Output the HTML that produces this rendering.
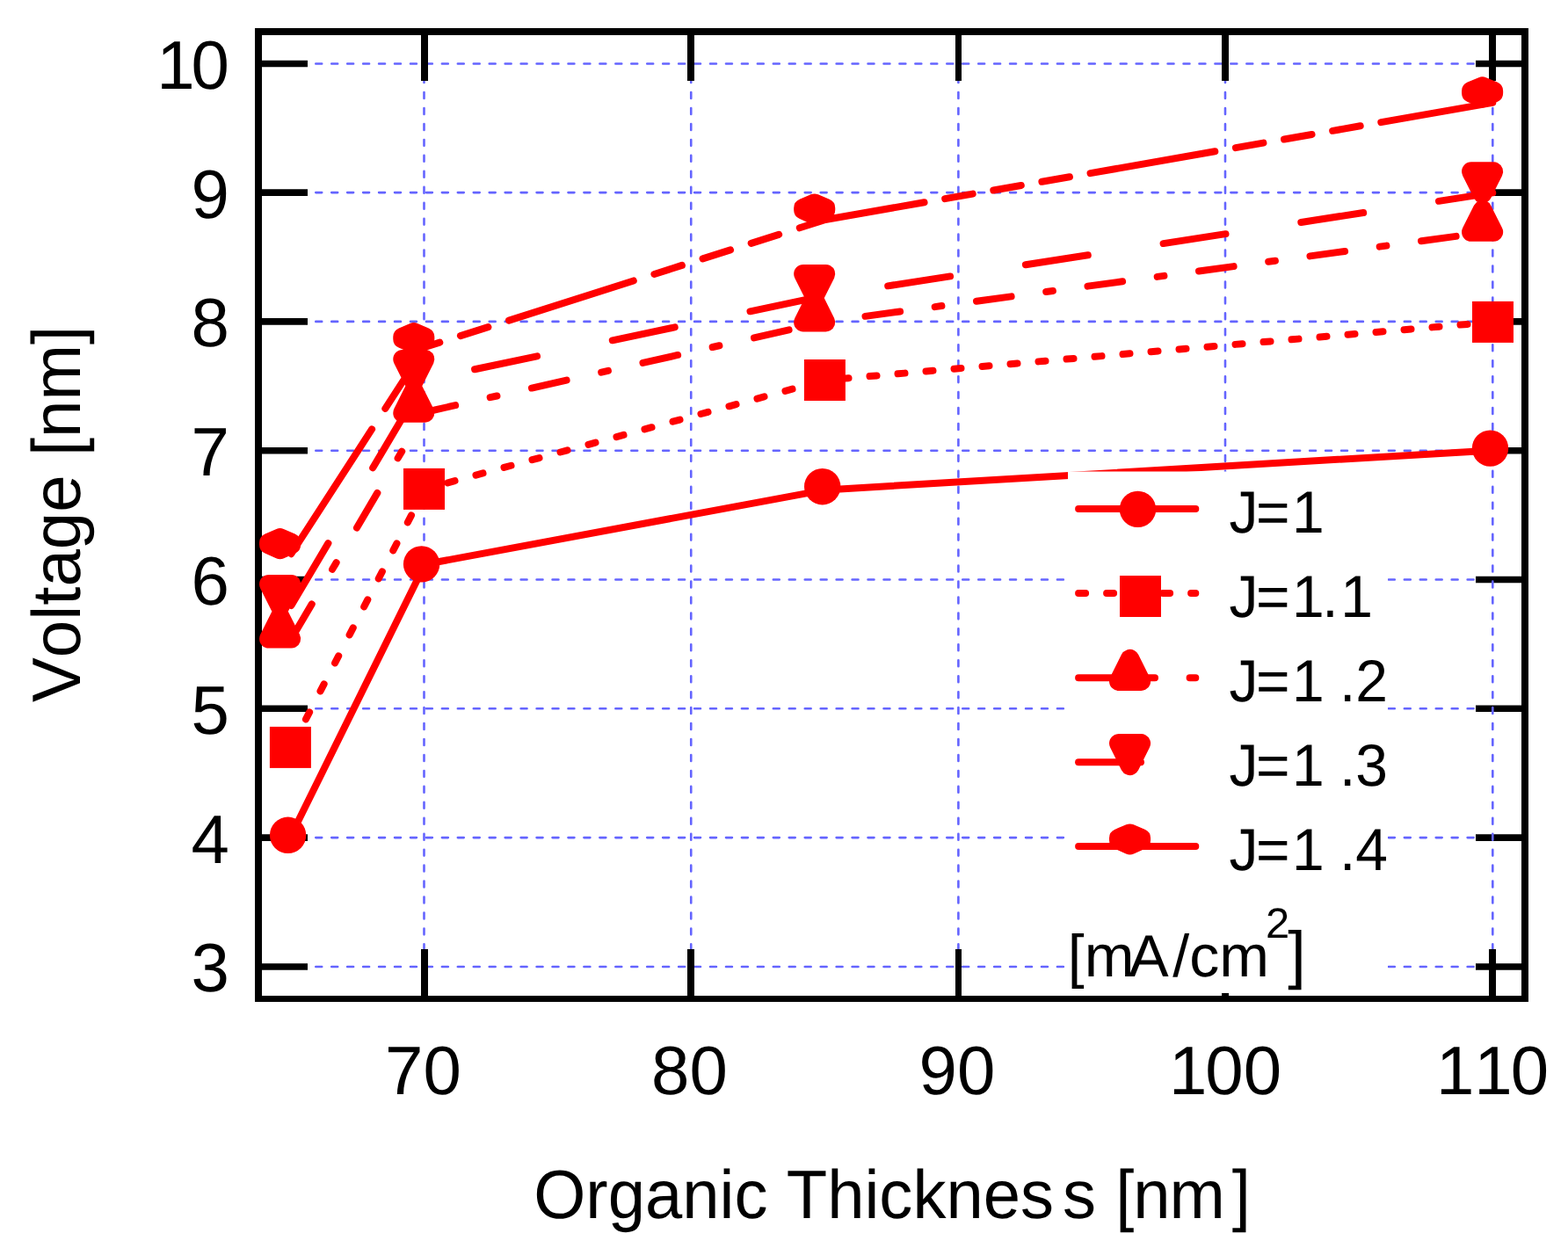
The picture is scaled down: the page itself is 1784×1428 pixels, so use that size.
<!DOCTYPE html>
<html lang="en"><head><meta charset="utf-8"><title>Voltage vs Organic Thickness</title>
<style>html,body{margin:0;padding:0;background:#fff;overflow:hidden}svg{display:block}text{font-family:"Liberation Sans",sans-serif;fill:#000;font-kerning:none;font-variant-ligatures:none;text-rendering:geometricPrecision}</style>
</head><body>
<svg width="1784" height="1428" viewBox="0 0 1784 1428">
<rect x="0" y="0" width="1784" height="1428" fill="#ffffff"/>
<g id="hgrid" stroke="#6464ff" stroke-width="2.6" stroke-linecap="round" stroke-dasharray="6.9 11.05" fill="none">
<line x1="359.3" y1="72.5" x2="1678" y2="72.5"/>
<line x1="359.3" y1="219.1" x2="1678" y2="219.1"/>
<line x1="359.3" y1="365.9" x2="1678" y2="365.9"/>
<line x1="359.3" y1="512.7" x2="1678" y2="512.7"/>
<line x1="359.3" y1="659.5" x2="1678" y2="659.5"/>
<line x1="359.3" y1="806.3" x2="1678" y2="806.3"/>
<line x1="359.3" y1="953.1" x2="1678" y2="953.1"/>
<line x1="359.3" y1="1100" x2="1678" y2="1100"/>
</g>
<g id="ticks" stroke="#000" stroke-width="7.6" fill="none">
<line x1="294.0" y1="72.5" x2="350" y2="72.5"/>
<line x1="1679" y1="72.5" x2="1735.0" y2="72.5"/>
<line x1="294.0" y1="219.1" x2="350" y2="219.1"/>
<line x1="1679" y1="219.1" x2="1735.0" y2="219.1"/>
<line x1="294.0" y1="365.9" x2="350" y2="365.9"/>
<line x1="1679" y1="365.9" x2="1735.0" y2="365.9"/>
<line x1="294.0" y1="512.7" x2="350" y2="512.7"/>
<line x1="1679" y1="512.7" x2="1735.0" y2="512.7"/>
<line x1="294.0" y1="659.5" x2="350" y2="659.5"/>
<line x1="1679" y1="659.5" x2="1735.0" y2="659.5"/>
<line x1="294.0" y1="806.3" x2="350" y2="806.3"/>
<line x1="1679" y1="806.3" x2="1735.0" y2="806.3"/>
<line x1="294.0" y1="953.1" x2="350" y2="953.1"/>
<line x1="1679" y1="953.1" x2="1735.0" y2="953.1"/>
<line x1="294.0" y1="1100" x2="350" y2="1100"/>
<line x1="1679" y1="1100" x2="1735.0" y2="1100"/>
</g>
<g id="vgrid" stroke="#6464ff" stroke-width="2.6" stroke-linecap="round" stroke-dasharray="6.9 11.05" fill="none">
<line x1="482.5" y1="1081.3" x2="482.5" y2="92"/>
<line x1="786.25" y1="1081.3" x2="786.25" y2="92"/>
<line x1="1090.4" y1="1081.3" x2="1090.4" y2="92"/>
<line x1="1394" y1="1081.3" x2="1394" y2="92"/>
<line x1="1698.3" y1="1081.3" x2="1698.3" y2="92"/>
</g>
<g id="xticks" fill="#000" stroke="none">
<rect x="479" y="36.0" width="8" height="56.0"/>
<rect x="479" y="1080" width="8" height="56.3"/>
<rect x="782" y="36.0" width="8" height="56.0"/>
<rect x="782" y="1080" width="8" height="56.3"/>
<rect x="1087" y="36.0" width="7" height="56.0"/>
<rect x="1087" y="1080" width="7" height="56.3"/>
<rect x="1390" y="36.0" width="8" height="56.0"/>
<rect x="1390" y="1080" width="8" height="56.3"/>
<rect x="1694" y="36.0" width="8" height="56.0"/>
<rect x="1694" y="1080" width="8" height="56.3"/>
</g>
<path id="frame" fill="#000" fill-rule="evenodd" d="M290 32H1739V1140H290Z M298 40V1133H1731V40Z"/>
<g id="lines" stroke="#ff0000" stroke-width="8.0" stroke-linecap="round" stroke-linejoin="round" fill="none">
<path d="M331.4 950.3 L483.5 642 L939 557.4 L1698.25 512.4"/>
<path d="M331.4 850.4 L335.54 842.4 M347.96 818.4 L352.09 810.4 M364.51 786.4 L368.65 778.4 M381.07 754.4 L385.2 746.4 M397.62 722.4 L401.76 714.4 M414.18 690.4 L418.31 682.4 M430.73 658.4 L434.87 650.4 M447.29 626.4 L451.42 618.4 M463.84 594.4 L467.98 586.4 M480.4 562.4 L483.5 556.4 L485.5 555.86 M509.5 549.33 L517.5 547.15 M541.5 540.62 L549.5 538.45 M573.5 531.92 L581.5 529.74 M605.5 523.21 L613.5 521.04 M637.5 514.51 L645.5 512.33 M669.5 505.81 L677.5 503.63 M701.5 497.1 L709.5 494.93 M733.5 488.4 L741.5 486.22 M765.5 479.69 L773.5 477.52 M797.5 470.99 L805.5 468.81 M829.5 462.28 L837.5 460.11 M861.5 453.58 L869.5 451.4 M893.5 444.88 L901.5 442.7 M925.5 436.17 L933.5 434 M957.5 430.89 L965.5 430.19 M989.5 428.1 L997.5 427.41 M1021.5 425.32 L1029.5 424.62 M1053.5 422.53 L1061.5 421.84 M1085.5 419.75 L1093.5 419.05 M1117.5 416.96 L1125.5 416.26 M1149.5 414.17 L1157.5 413.48 M1181.5 411.39 L1189.5 410.69 M1213.5 408.6 L1221.5 407.91 M1245.5 405.82 L1253.5 405.12 M1277.5 403.03 L1285.5 402.33 M1309.5 400.24 L1317.5 399.55 M1341.5 397.46 L1349.5 396.76 M1373.5 394.67 L1381.5 393.98 M1405.5 391.89 L1413.5 391.19 M1437.5 389.1 L1445.5 388.4 M1469.5 386.31 L1477.5 385.62 M1501.5 383.53 L1509.5 382.83 M1533.5 380.74 L1541.5 380.05 M1565.5 377.96 L1573.5 377.26 M1597.5 375.17 L1605.5 374.47 M1629.5 372.39 L1637.5 371.69 M1661.5 369.6 L1669.5 368.9 M1693.5 366.81 L1698.25 366.4"/>
<path d="M331.4 727 L354.75 687.4 M378.09 647.8 L382.63 640.1 M405.98 600.5 L429.32 560.9 M452.67 521.3 L457.21 513.6 M480.55 474 L483.5 469 L518.1 461.18 M557.7 452.22 L565.4 450.48 M605 441.53 L644.6 432.57 M684.2 423.62 L691.9 421.88 M731.5 412.92 L771.1 403.97 M810.7 395.01 L818.4 393.27 M858 384.32 L897.6 375.36 M937.2 366.41 L939 366 L944.9 365.2 M984.5 359.84 L1024.1 354.48 M1063.7 349.12 L1071.4 348.08 M1111 342.72 L1150.6 337.36 M1190.2 332 L1197.9 330.96 M1237.5 325.6 L1277.1 320.24 M1316.7 314.89 L1324.4 313.84 M1364 308.48 L1403.6 303.13 M1443.2 297.77 L1450.9 296.72 M1490.5 291.36 L1530.1 286.01 M1569.7 280.65 L1577.4 279.6 M1617 274.25 L1656.6 268.89 M1696.2 263.53 L1698.25 263.25"/>
<path d="M331.4 689 L373.39 618.1 M424.21 532.3 L466.21 461.4 M540.1 420.28 L611 405.36 M696.8 387.29 L767.7 372.37 M853.5 354.3 L924.4 339.37 M1010.2 325.34 L1081.1 314.42 M1166.9 301.21 L1237.8 290.29 M1323.6 277.08 L1394.5 266.17 M1480.3 252.96 L1551.2 242.04 M1637 228.83 L1698.25 219.4"/>
<path d="M331.4 630.2 L423.07 488.45 M438.35 464.83 L458.72 433.33 M473.99 409.7 L483.5 395 L500.3 389.65 M523.92 382.13 L555.42 372.1 M579.05 364.58 L720.8 319.46 M744.42 311.94 L775.92 301.91 M799.55 294.39 L831.05 284.36 M854.67 276.84 L886.17 266.82 M909.8 259.3 L939 250 L1051.55 230.27 M1075.17 226.13 L1106.67 220.61 M1130.3 216.46 L1161.8 210.94 M1185.42 206.8 L1216.92 201.28 M1240.55 197.14 L1382.3 172.29 M1405.92 168.15 L1437.42 162.62 M1461.05 158.48 L1492.55 152.96 M1516.17 148.82 L1547.67 143.3 M1571.3 139.15 L1698.25 116.9"/>
</g>
<style>.m{stroke:#ff0000;stroke-width:21.5;stroke-linejoin:round}</style>
<g id="markers" fill="#ff0000" stroke="none">
<circle cx="327.6" cy="950.3" r="20.7"/>
<circle cx="479.6" cy="641.9" r="20.7"/>
<circle cx="935.7" cy="553.7" r="20.7"/>
<circle cx="1695.5" cy="510.1" r="20.7"/>
<rect x="306.9" y="826.9" width="47" height="47"/>
<rect x="459" y="532.9" width="47" height="47"/>
<rect x="914.9" y="409" width="47" height="47"/>
<rect x="1675" y="342.9" width="47" height="47"/>
<path class="m" d="M318.6 701.2 L331.4 726.8 L305.8 726.8 Z"/>
<path class="m" d="M470.8 444.3 L483.6 469.9 L458 469.9 Z"/>
<path class="m" d="M926.7 341.1 L939.5 366.7 L913.9 366.7 Z"/>
<path class="m" d="M1686.6 238.45 L1699.4 264.05 L1673.8 264.05 Z"/>
<path class="m" d="M318.6 690.3 L331.4 664.7 L305.8 664.7 Z"/>
<path class="m" d="M470.8 434.3 L483.6 408.7 L458 408.7 Z"/>
<path class="m" d="M926.7 337.3 L939.5 311.7 L913.9 311.7 Z"/>
<path class="m" d="M1686.6 220.7 L1699.4 195.1 L1673.8 195.1 Z"/>
<path class="m" d="M318.6 611.9 L331.4 617.3 L331.4 619.7 L318.6 625.5 L305.8 619.7 L305.8 617.3 Z"/>
<path class="m" d="M470.8 377.9 L483.6 383.3 L483.6 385.7 L470.8 391.5 L458 385.7 L458 383.3 Z"/>
<path class="m" d="M926.7 231.25 L939.5 236.65 L939.5 239.05 L926.7 244.85 L913.9 239.05 L913.9 236.65 Z"/>
<path class="m" d="M1686.6 98.1 L1699.4 103.5 L1699.4 105.9 L1686.6 111.7 L1673.8 105.9 L1673.8 103.5 Z"/>
</g>
<rect x="1215" y="536.5" width="364" height="593.5" fill="#ffffff"/>
<g id="legend-lines" stroke="#ff0000" stroke-width="8.0" stroke-linecap="round" fill="none">
<path d="M1227.1 578.9 L1360.3 578.9"/>
<path d="M1227.1 675 L1235.1 675 M1259.1 675 L1267.1 675 M1291.1 675 L1299.1 675 M1323.1 675 L1331.1 675 M1355.1 675 L1360.3 675"/>
<path d="M1227.1 771.2 L1266.7 771.2 M1306.3 771.2 L1314 771.2 M1353.6 771.2 L1360.3 771.2"/>
<path d="M1227.1 867.3 L1298 867.3"/>
<path d="M1227.1 963.05 L1360.3 963.05"/>
</g>
<g id="legend-markers" fill="#ff0000" stroke="none">
<circle cx="1294.5" cy="579.4" r="20.7"/>
<rect x="1274" y="655" width="47" height="47"/>
<path class="m" d="M1285.55 749.65 L1298.35 775.25 L1272.75 775.25 Z"/>
<path class="m" d="M1285.55 871.4 L1298.35 845.8 L1272.75 845.8 Z"/>
<path class="m" d="M1285.55 948.2 L1298.35 953.6 L1298.35 956 L1285.55 961.8 L1272.75 956 L1272.75 953.6 Z"/>
</g>
<g id="legend-text" font-size="67.5">
<text transform="translate(1398.5 605.5) scale(0.978 1)" dx="0 -2.6 2.5">J=1</text>
<text transform="translate(1398.5 701.7) scale(0.978 1)" dx="0 -2.6 2.5 -2.5 2.7">J=1.1</text>
<text transform="translate(1398.5 797.9) scale(0.978 1)" dx="0 -2.6 2.5 -1.1 0 0">J=1 .2</text>
<text transform="translate(1398.5 894) scale(0.978 1)" dx="0 -2.6 2.5 -1.1 0 0">J=1 .3</text>
<text transform="translate(1398.5 990.2) scale(0.978 1)" dx="0 -2.6 2.5 -1.1 0 0">J=1 .4</text>
</g>
<text transform="translate(1214.7 1111.1) scale(1.009 1)" font-size="67.5" dx="0 0 -6 4.5 0 0">[mA/cm<tspan font-size="48.5" dx="-3.96" dy="-43.7">2</tspan><tspan font-size="73.3" dx="-2" dy="43.2">]</tspan></text>
<g id="labels" font-size="78">
<text x="257" y="100.9" text-anchor="end" dx="4 -4">10</text>
<text x="261" y="247.5" text-anchor="end">9</text>
<text x="261" y="394.3" text-anchor="end">8</text>
<text x="261" y="541.1" text-anchor="end">7</text>
<text x="261" y="687.9" text-anchor="end">6</text>
<text x="261" y="834.7" text-anchor="end">5</text>
<text x="261" y="981.5" text-anchor="end">4</text>
<text x="261" y="1128.4" text-anchor="end">3</text>
<text x="481.5" y="1244.9" text-anchor="middle">70</text>
<text x="784.5" y="1244.9" text-anchor="middle">80</text>
<text x="1089" y="1244.9" text-anchor="middle">90</text>
<text x="1391.2" y="1244.9" text-anchor="middle" dx="2.8 -2 0">100</text>
<text x="1695.2" y="1244.9" text-anchor="middle" dx="2.8 0 -2">110</text>
<text transform="translate(607.2 1386) scale(0.975 1)" dx="0 0 0 0 0 0 0 0 0 0 0 0 0 0 0 0 10.26 0 1.0 -1.03 -1.03 7.9">Organic Thickness [nm]</text>
<text transform="translate(91.2 584.9) rotate(-90) scale(0.978 1)" text-anchor="middle">Voltage [nm]</text>
</g>
</svg>
</body></html>
